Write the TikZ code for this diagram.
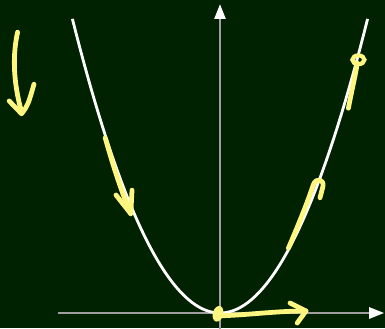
\documentclass[tikz,border=0pt]{standalone}
\usepackage{tikz}
\usetikzlibrary{arrows.meta}
\definecolor{tableau}{RGB}{0,34,0}
\definecolor{craie}{RGB}{255,246,128}

\begin{document}
\begin{tikzpicture}[
    axe/.style={gray!75, line width=1.2pt,
                -{Triangle[length=10.5pt, width=8pt, color=white]}},
    main/.style={craie, line width=3.4pt, line cap=round, line join=round}]
  % Fond du tableau
  \fill[tableau] (-5.5,-0.375) rectangle (4.125,7.825);
  \useasboundingbox (-5.5,-0.375) rectangle (4.125,7.825);
  % Axes
  \draw[axe] (-4.05,0) -- (4.1,0);
  \draw[axe] (0,-0.4) -- (0,7.72);
  % Parabole
  \draw[white, line width=2pt, domain=-3.69:3.69, samples=80]
      plot (\x, {0.54*\x*\x});
  % Fleche en haut a gauche
  \draw[main] (-5.06,7.02) .. controls (-5.22,6.3) and (-5.12,5.6) .. (-4.96,5.02);
  \draw[main] (-5.27,5.3) -- (-4.96,4.98) .. controls (-4.8,5.2) .. (-4.65,5.72);
  % Fleche le long de la branche gauche
  \draw[main] (-2.87,4.38) .. controls (-2.65,3.6) and (-2.45,3.0) .. (-2.23,2.48);
  \draw[main] (-2.6,2.95) -- (-2.23,2.48) -- (-2.2,3.07);
  % Sommet et fleche horizontale
  \fill[craie, rotate around={-15:(-0.05,-0.02)}] (-0.05,-0.02) ellipse (0.13cm and 0.2cm);
  \draw[main] (0,-0.07) .. controls (0.7,-0.05) and (1.4,0.05) .. (2.15,0.05);
  \draw[main] (1.75,0.25) -- (2.15,0.05) -- (1.93,-0.25);
  % Fleche avec crochet (branche droite, bas)
  \draw[main] (1.71,1.62) .. controls (2.0,2.3) and (2.2,2.8) .. (2.33,3.2)
      .. controls (2.4,3.4) and (2.62,3.35) .. (2.57,3.15)
      .. controls (2.55,3.0) .. (2.5,2.88);
  % Fleche avec boucle (branche droite, haut)
  \draw[main] (3.21,5.12) .. controls (3.3,5.6) and (3.4,6.0) .. (3.43,6.25);
  \draw[craie, line width=3pt] (3.46,6.33) ellipse (0.15cm and 0.11cm);
\end{tikzpicture}
\end{document}
